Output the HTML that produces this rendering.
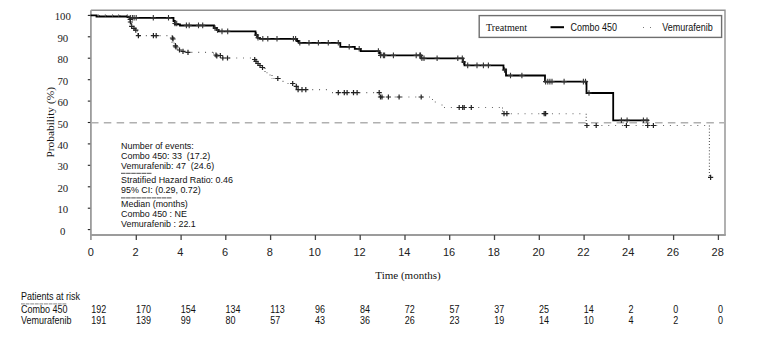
<!DOCTYPE html>
<html><head><meta charset="utf-8"><style>
html,body{margin:0;padding:0;background:#fff;width:765px;height:351px;overflow:hidden}
svg{display:block}
.serif{font-family:"Liberation Serif",serif;fill:#111}
.sans{font-family:"Liberation Sans",sans-serif;fill:#111}
.ylab{font-family:"Liberation Serif",serif;font-size:10.8px;fill:#222;text-anchor:middle}
.xlab{font-family:"Liberation Sans",sans-serif;font-size:11px;fill:#222;text-anchor:middle}
.ann{font-family:"Liberation Sans",sans-serif;font-size:9.8px;fill:#111}
.risk{font-family:"Liberation Sans",sans-serif;font-size:10px;fill:#111}
</style></head><body>
<svg width="765" height="351" viewBox="0 0 765 351">
<path d="M90.9 10.2 H725 V235" fill="none" stroke="#909090" stroke-width="1.4"/>
<path d="M90.9 10.2 V240 M90.9 235 H725.8" fill="none" stroke="#9c9c9c" stroke-width="1.8"/>
<line x1="87.8" y1="229.6" x2="90.2" y2="229.6" stroke="#222" stroke-width="1.1"/>
<text x="62.8" y="234.6" class="ylab">0</text>
<line x1="87.8" y1="208.2" x2="90.2" y2="208.2" stroke="#222" stroke-width="1.1"/>
<text x="62.8" y="213.2" class="ylab">10</text>
<line x1="87.8" y1="186.8" x2="90.2" y2="186.8" stroke="#222" stroke-width="1.1"/>
<text x="62.8" y="191.8" class="ylab">20</text>
<line x1="87.8" y1="165.3" x2="90.2" y2="165.3" stroke="#222" stroke-width="1.1"/>
<text x="62.8" y="170.3" class="ylab">30</text>
<line x1="87.8" y1="143.9" x2="90.2" y2="143.9" stroke="#222" stroke-width="1.1"/>
<text x="62.8" y="148.9" class="ylab">40</text>
<line x1="87.8" y1="122.5" x2="90.2" y2="122.5" stroke="#222" stroke-width="1.1"/>
<text x="62.8" y="127.5" class="ylab">50</text>
<line x1="87.8" y1="101.1" x2="90.2" y2="101.1" stroke="#222" stroke-width="1.1"/>
<text x="62.8" y="106.1" class="ylab">60</text>
<line x1="87.8" y1="79.7" x2="90.2" y2="79.7" stroke="#222" stroke-width="1.1"/>
<text x="62.8" y="84.7" class="ylab">70</text>
<line x1="87.8" y1="58.2" x2="90.2" y2="58.2" stroke="#222" stroke-width="1.1"/>
<text x="62.8" y="63.2" class="ylab">80</text>
<line x1="87.8" y1="36.8" x2="90.2" y2="36.8" stroke="#222" stroke-width="1.1"/>
<text x="62.8" y="41.8" class="ylab">90</text>
<line x1="87.8" y1="15.4" x2="90.2" y2="15.4" stroke="#222" stroke-width="1.1"/>
<text x="62.8" y="20.4" class="ylab">100</text>
<text x="90.8" y="256.3" class="xlab">0</text>
<line x1="136.3" y1="235" x2="136.3" y2="240" stroke="#444" stroke-width="1.3"/>
<text x="135.6" y="256.3" class="xlab">2</text>
<line x1="181.1" y1="235" x2="181.1" y2="240" stroke="#444" stroke-width="1.3"/>
<text x="180.4" y="256.3" class="xlab">4</text>
<line x1="225.8" y1="235" x2="225.8" y2="240" stroke="#444" stroke-width="1.3"/>
<text x="225.1" y="256.3" class="xlab">6</text>
<line x1="270.6" y1="235" x2="270.6" y2="240" stroke="#444" stroke-width="1.3"/>
<text x="269.9" y="256.3" class="xlab">8</text>
<line x1="315.4" y1="235" x2="315.4" y2="240" stroke="#444" stroke-width="1.3"/>
<text x="314.7" y="256.3" class="xlab">10</text>
<line x1="360.2" y1="235" x2="360.2" y2="240" stroke="#444" stroke-width="1.3"/>
<text x="359.5" y="256.3" class="xlab">12</text>
<line x1="405.0" y1="235" x2="405.0" y2="240" stroke="#444" stroke-width="1.3"/>
<text x="404.3" y="256.3" class="xlab">14</text>
<line x1="449.7" y1="235" x2="449.7" y2="240" stroke="#444" stroke-width="1.3"/>
<text x="449.0" y="256.3" class="xlab">16</text>
<line x1="494.5" y1="235" x2="494.5" y2="240" stroke="#444" stroke-width="1.3"/>
<text x="493.8" y="256.3" class="xlab">18</text>
<line x1="539.3" y1="235" x2="539.3" y2="240" stroke="#444" stroke-width="1.3"/>
<text x="538.6" y="256.3" class="xlab">20</text>
<line x1="584.1" y1="235" x2="584.1" y2="240" stroke="#444" stroke-width="1.3"/>
<text x="583.4" y="256.3" class="xlab">22</text>
<line x1="628.9" y1="235" x2="628.9" y2="240" stroke="#444" stroke-width="1.3"/>
<text x="628.2" y="256.3" class="xlab">24</text>
<line x1="673.6" y1="235" x2="673.6" y2="240" stroke="#444" stroke-width="1.3"/>
<text x="672.9" y="256.3" class="xlab">26</text>
<line x1="718.4" y1="235" x2="718.4" y2="240" stroke="#444" stroke-width="1.3"/>
<text x="717.7" y="256.3" class="xlab">28</text>
<line x1="91" y1="122.8" x2="725" y2="122.8" stroke="#b0b0b0" stroke-width="1.6" stroke-dasharray="7.5 5.32" stroke-dashoffset="0"/>
<path d="M90.5 15.5 H130.2 M130.2 23.0 H131.5 M131.5 26.5 H133.5 M133.5 28.5 H135.5 M135.5 30.5 H137.5 M137.5 35.6 H172.0 M172.0 43.0 H175.5 M175.5 49.0 H179.5 M179.5 51.4 H183.0 M183.0 52.4 H213.5 M213.5 55.5 H221.0 M221.0 58.0 H252.0 M252.0 59.5 H255.0 M255.0 62.0 H257.0 M257.0 64.0 H259.0 M259.0 66.0 H262.0 M262.0 68.0 H265.0 M265.0 72.8 H268.0 M268.0 75.0 H272.0 M272.0 78.5 H281.0 M281.0 81.4 H286.0 M286.0 83.5 H294.5 M294.5 86.4 H297.0 M297.0 89.6 H330.5 M330.5 92.6 H379.5 M379.5 97.0 H430.5 M430.5 99.5 H433.3 M433.3 102.0 H440.0 M440.0 105.0 H442.5 M442.5 107.5 H502.5 M502.5 113.7 H586.2 M586.2 125.5 H709.4" fill="none" stroke="#666" stroke-width="1.1" stroke-dasharray="1 5.85" stroke-dashoffset="-1.5"/>
<path d="M130.2 15.5 V23.0 M131.5 23.0 V26.5 M137.5 30.5 V35.6 M172.0 35.6 V43.0 M175.5 43.0 V49.0 M213.5 52.4 V55.5 M265.0 68.0 V72.8 M272.0 75.0 V78.5 M297.0 86.4 V89.6 M379.5 92.6 V97.0 M502.5 107.5 V113.7 M586.2 113.7 V125.5 M709.4 125.5 V177.3" fill="none" stroke="#555" stroke-width="1.1" stroke-dasharray="1 2.1"/>
<path d="M90.5 15.4 L96.5 15.4 L96.5 16.5 L127.5 16.5 L127.5 17.1 L129.5 17.1 L129.5 17.8 L173.5 17.8 L173.5 21.0 L174.8 21.0 L174.8 24.4 L180.0 24.4 L180.0 25.5 L214.0 25.4 L214.0 28.0 L217.0 28.0 L217.0 30.0 L218.5 30.0 L218.5 31.4 L255.5 31.4 L255.5 35.0 L257.5 35.0 L257.5 37.8 L260.0 37.8 L260.0 38.8 L297.0 38.8 L297.0 41.0 L299.0 41.0 L299.0 42.8 L340.3 42.8 L340.3 46.8 L354.8 46.8 L354.8 48.8 L360.8 48.8 L360.8 51.1 L379.0 51.1 L379.0 53.0 L380.5 53.0 L380.5 55.4 L421.0 55.4 L421.0 58.3 L463.0 58.3 L463.0 62.0 L464.5 62.0 L464.5 65.4 L503.5 65.4 L503.5 69.5 L506.0 69.5 L506.0 75.5 L545.0 75.5 L545.0 81.6 L586.5 81.6 L586.5 93.0 L613.2 93.0 L613.2 120.3 L649.0 120.3" fill="none" stroke="#000" stroke-width="1.8"/>
<path d="M127.7 17.8 H132.9 M130.3 15.0 V20.6" stroke="#333" stroke-width="1.1"/>
<path d="M129.8 17.8 H135.0 M132.4 15.0 V20.6" stroke="#333" stroke-width="1.1"/>
<path d="M131.5 17.8 H136.7 M134.1 15.0 V20.6" stroke="#333" stroke-width="1.1"/>
<path d="M133.6 17.8 H138.8 M136.2 15.0 V20.6" stroke="#333" stroke-width="1.1"/>
<path d="M150.7 17.8 H155.9 M153.3 15.0 V20.6" stroke="#333" stroke-width="1.1"/>
<path d="M165.9 17.8 H171.1 M168.5 15.0 V20.6" stroke="#333" stroke-width="1.1"/>
<path d="M172.4 23.5 H177.6 M175.0 20.7 V26.3" stroke="#333" stroke-width="1.1"/>
<path d="M174.1 23.5 H179.3 M176.7 20.7 V26.3" stroke="#333" stroke-width="1.1"/>
<path d="M183.8 25.4 H189.0 M186.4 22.6 V28.2" stroke="#333" stroke-width="1.1"/>
<path d="M186.6 25.4 H191.8 M189.2 22.6 V28.2" stroke="#333" stroke-width="1.1"/>
<path d="M195.9 25.4 H201.1 M198.5 22.6 V28.2" stroke="#333" stroke-width="1.1"/>
<path d="M200.1 25.4 H205.3 M202.7 22.6 V28.2" stroke="#333" stroke-width="1.1"/>
<path d="M212.4 28.0 H217.6 M215.0 25.2 V30.8" stroke="#333" stroke-width="1.1"/>
<path d="M214.9 30.0 H220.1 M217.5 27.2 V32.8" stroke="#333" stroke-width="1.1"/>
<path d="M219.4 31.4 H224.6 M222.0 28.6 V34.2" stroke="#333" stroke-width="1.1"/>
<path d="M225.1 31.4 H230.3 M227.7 28.6 V34.2" stroke="#333" stroke-width="1.1"/>
<path d="M253.9 35.0 H259.1 M256.5 32.2 V37.8" stroke="#333" stroke-width="1.1"/>
<path d="M255.4 37.8 H260.6 M258.0 35.0 V40.6" stroke="#333" stroke-width="1.1"/>
<path d="M260.2 38.8 H265.4 M262.8 36.0 V41.6" stroke="#333" stroke-width="1.1"/>
<path d="M265.2 38.8 H270.4 M267.8 36.0 V41.6" stroke="#333" stroke-width="1.1"/>
<path d="M274.4 38.8 H279.6 M277.0 36.0 V41.6" stroke="#333" stroke-width="1.1"/>
<path d="M290.8 38.8 H296.0 M293.4 36.0 V41.6" stroke="#333" stroke-width="1.1"/>
<path d="M293.0 38.8 H298.2 M295.6 36.0 V41.6" stroke="#333" stroke-width="1.1"/>
<path d="M297.2 42.8 H302.4 M299.8 40.0 V45.6" stroke="#333" stroke-width="1.1"/>
<path d="M306.4 42.8 H311.6 M309.0 40.0 V45.6" stroke="#333" stroke-width="1.1"/>
<path d="M315.8 42.8 H321.0 M318.4 40.0 V45.6" stroke="#333" stroke-width="1.1"/>
<path d="M325.7 42.8 H330.9 M328.3 40.0 V45.6" stroke="#333" stroke-width="1.1"/>
<path d="M335.7 42.8 H340.9 M338.3 40.0 V45.6" stroke="#333" stroke-width="1.1"/>
<path d="M346.6 46.8 H351.8 M349.2 44.0 V49.6" stroke="#333" stroke-width="1.1"/>
<path d="M356.6 48.8 H361.8 M359.2 46.0 V51.6" stroke="#333" stroke-width="1.1"/>
<path d="M375.8 51.1 H381.0 M378.4 48.3 V53.9" stroke="#333" stroke-width="1.1"/>
<path d="M378.0 55.4 H383.2 M380.6 52.6 V58.2" stroke="#333" stroke-width="1.1"/>
<path d="M380.8 55.4 H386.0 M383.4 52.6 V58.2" stroke="#333" stroke-width="1.1"/>
<path d="M382.0 55.4 H387.2 M384.6 52.6 V58.2" stroke="#333" stroke-width="1.1"/>
<path d="M390.8 55.4 H396.0 M393.4 52.6 V58.2" stroke="#333" stroke-width="1.1"/>
<path d="M413.6 55.4 H418.8 M416.2 52.6 V58.2" stroke="#333" stroke-width="1.1"/>
<path d="M417.2 55.4 H422.4 M419.8 52.6 V58.2" stroke="#333" stroke-width="1.1"/>
<path d="M417.9 55.4 H423.1 M420.5 52.6 V58.2" stroke="#333" stroke-width="1.1"/>
<path d="M419.3 58.3 H424.5 M421.9 55.5 V61.1" stroke="#333" stroke-width="1.1"/>
<path d="M421.4 58.3 H426.6 M424.0 55.5 V61.1" stroke="#333" stroke-width="1.1"/>
<path d="M434.5 58.3 H439.7 M437.1 55.5 V61.1" stroke="#333" stroke-width="1.1"/>
<path d="M455.2 58.3 H460.4 M457.8 55.5 V61.1" stroke="#333" stroke-width="1.1"/>
<path d="M459.7 58.3 H464.9 M462.3 55.5 V61.1" stroke="#333" stroke-width="1.1"/>
<path d="M460.9 62.0 H466.1 M463.5 59.2 V64.8" stroke="#333" stroke-width="1.1"/>
<path d="M465.1 65.4 H470.3 M467.7 62.6 V68.2" stroke="#333" stroke-width="1.1"/>
<path d="M474.4 65.4 H479.6 M477.0 62.6 V68.2" stroke="#333" stroke-width="1.1"/>
<path d="M480.8 65.4 H486.0 M483.4 62.6 V68.2" stroke="#333" stroke-width="1.1"/>
<path d="M485.8 65.4 H491.0 M488.4 62.6 V68.2" stroke="#333" stroke-width="1.1"/>
<path d="M501.9 70.0 H507.1 M504.5 67.2 V72.8" stroke="#333" stroke-width="1.1"/>
<path d="M507.9 75.5 H513.1 M510.5 72.7 V78.3" stroke="#333" stroke-width="1.1"/>
<path d="M519.3 75.5 H524.5 M521.9 72.7 V78.3" stroke="#333" stroke-width="1.1"/>
<path d="M543.0 81.6 H548.2 M545.6 78.8 V84.4" stroke="#333" stroke-width="1.1"/>
<path d="M545.2 81.6 H550.4 M547.8 78.8 V84.4" stroke="#333" stroke-width="1.1"/>
<path d="M547.3 81.6 H552.5 M549.9 78.8 V84.4" stroke="#333" stroke-width="1.1"/>
<path d="M549.4 81.6 H554.6 M552.0 78.8 V84.4" stroke="#333" stroke-width="1.1"/>
<path d="M561.5 81.6 H566.7 M564.1 78.8 V84.4" stroke="#333" stroke-width="1.1"/>
<path d="M580.8 81.6 H586.0 M583.4 78.8 V84.4" stroke="#333" stroke-width="1.1"/>
<path d="M582.9 81.6 H588.1 M585.5 78.8 V84.4" stroke="#333" stroke-width="1.1"/>
<path d="M586.4 93.0 H591.6 M589.0 90.2 V95.8" stroke="#333" stroke-width="1.1"/>
<path d="M618.8 120.3 H624.0 M621.4 117.5 V123.1" stroke="#333" stroke-width="1.1"/>
<path d="M624.5 120.3 H629.7 M627.1 117.5 V123.1" stroke="#333" stroke-width="1.1"/>
<path d="M640.8 120.3 H646.0 M643.4 117.5 V123.1" stroke="#333" stroke-width="1.1"/>
<path d="M644.4 120.3 H649.6 M647.0 117.5 V123.1" stroke="#333" stroke-width="1.1"/>
<line x1="98.2" y1="14.3" x2="98.2" y2="16.5" stroke="#666" stroke-width="1"/>
<line x1="105.3" y1="14.3" x2="105.3" y2="16.5" stroke="#666" stroke-width="1"/>
<line x1="112.5" y1="14.3" x2="112.5" y2="16.5" stroke="#666" stroke-width="1"/>
<line x1="118.6" y1="14.3" x2="118.6" y2="16.5" stroke="#666" stroke-width="1"/>
<line x1="127.3" y1="14.3" x2="127.3" y2="16.5" stroke="#666" stroke-width="1"/>
<path d="M127.6 19.5 H132.8 M130.2 16.9 V22.1" stroke="#222" stroke-width="1.2"/>
<path d="M127.8 22.0 H133.0 M130.4 19.4 V24.6" stroke="#222" stroke-width="1.2"/>
<path d="M129.1 26.3 H134.3 M131.7 23.7 V28.9" stroke="#222" stroke-width="1.2"/>
<path d="M131.4 28.3 H136.6 M134.0 25.7 V30.9" stroke="#222" stroke-width="1.2"/>
<path d="M133.2 30.2 H138.4 M135.8 27.6 V32.8" stroke="#222" stroke-width="1.2"/>
<path d="M135.8 35.6 H141.0 M138.4 33.0 V38.2" stroke="#222" stroke-width="1.2"/>
<path d="M150.8 35.6 H156.0 M153.4 33.0 V38.2" stroke="#222" stroke-width="1.2"/>
<path d="M153.6 35.6 H158.8 M156.2 33.0 V38.2" stroke="#222" stroke-width="1.2"/>
<path d="M170.4 39.0 H175.6 M173.0 36.4 V41.6" stroke="#222" stroke-width="1.2"/>
<path d="M169.9 38.0 H175.1 M172.5 35.4 V40.6" stroke="#222" stroke-width="1.2"/>
<path d="M172.8 45.8 H178.0 M175.4 43.2 V48.4" stroke="#222" stroke-width="1.2"/>
<path d="M173.4 47.0 H178.6 M176.0 44.4 V49.6" stroke="#222" stroke-width="1.2"/>
<path d="M176.9 50.0 H182.1 M179.5 47.4 V52.6" stroke="#222" stroke-width="1.2"/>
<path d="M180.4 51.4 H185.6 M183.0 48.8 V54.0" stroke="#222" stroke-width="1.2"/>
<path d="M185.4 52.4 H190.6 M188.0 49.8 V55.0" stroke="#222" stroke-width="1.2"/>
<path d="M213.4 55.0 H218.6 M216.0 52.4 V57.6" stroke="#222" stroke-width="1.2"/>
<path d="M214.2 56.0 H219.4 M216.8 53.4 V58.6" stroke="#222" stroke-width="1.2"/>
<path d="M217.7 55.5 H222.9 M220.3 52.9 V58.1" stroke="#222" stroke-width="1.2"/>
<path d="M220.2 58.0 H225.4 M222.8 55.4 V60.6" stroke="#222" stroke-width="1.2"/>
<path d="M224.9 58.0 H230.1 M227.5 55.4 V60.6" stroke="#222" stroke-width="1.2"/>
<path d="M252.1 59.5 H257.3 M254.7 56.9 V62.1" stroke="#222" stroke-width="1.2"/>
<path d="M253.4 61.4 H258.6 M256.0 58.8 V64.0" stroke="#222" stroke-width="1.2"/>
<path d="M255.4 63.5 H260.6 M258.0 60.9 V66.1" stroke="#222" stroke-width="1.2"/>
<path d="M257.4 65.5 H262.6 M260.0 62.9 V68.1" stroke="#222" stroke-width="1.2"/>
<path d="M259.9 67.5 H265.1 M262.5 64.9 V70.1" stroke="#222" stroke-width="1.2"/>
<path d="M275.2 78.5 H280.4 M277.8 75.9 V81.1" stroke="#222" stroke-width="1.2"/>
<path d="M290.1 83.5 H295.3 M292.7 80.9 V86.1" stroke="#222" stroke-width="1.2"/>
<path d="M293.7 86.4 H298.9 M296.3 83.8 V89.0" stroke="#222" stroke-width="1.2"/>
<path d="M295.5 89.6 H300.7 M298.1 87.0 V92.2" stroke="#222" stroke-width="1.2"/>
<path d="M299.4 89.6 H304.6 M302.0 87.0 V92.2" stroke="#222" stroke-width="1.2"/>
<path d="M303.2 89.6 H308.4 M305.8 87.0 V92.2" stroke="#222" stroke-width="1.2"/>
<path d="M335.7 92.6 H340.9 M338.3 90.0 V95.2" stroke="#222" stroke-width="1.2"/>
<path d="M341.7 92.6 H346.9 M344.3 90.0 V95.2" stroke="#222" stroke-width="1.2"/>
<path d="M344.5 92.6 H349.7 M347.1 90.0 V95.2" stroke="#222" stroke-width="1.2"/>
<path d="M350.9 92.6 H356.1 M353.5 90.0 V95.2" stroke="#222" stroke-width="1.2"/>
<path d="M354.5 92.6 H359.7 M357.1 90.0 V95.2" stroke="#222" stroke-width="1.2"/>
<path d="M376.6 92.6 H381.8 M379.2 90.0 V95.2" stroke="#222" stroke-width="1.2"/>
<path d="M377.9 97.0 H383.1 M380.5 94.4 V99.6" stroke="#222" stroke-width="1.2"/>
<path d="M379.4 97.0 H384.6 M382.0 94.4 V99.6" stroke="#222" stroke-width="1.2"/>
<path d="M385.8 97.0 H391.0 M388.4 94.4 V99.6" stroke="#222" stroke-width="1.2"/>
<path d="M396.5 97.0 H401.7 M399.1 94.4 V99.6" stroke="#222" stroke-width="1.2"/>
<path d="M418.6 97.0 H423.8 M421.2 94.4 V99.6" stroke="#222" stroke-width="1.2"/>
<path d="M456.6 107.5 H461.8 M459.2 104.9 V110.1" stroke="#222" stroke-width="1.2"/>
<path d="M460.1 107.5 H465.3 M462.7 104.9 V110.1" stroke="#222" stroke-width="1.2"/>
<path d="M461.6 107.5 H466.8 M464.2 104.9 V110.1" stroke="#222" stroke-width="1.2"/>
<path d="M468.7 107.5 H473.9 M471.3 104.9 V110.1" stroke="#222" stroke-width="1.2"/>
<path d="M501.4 113.7 H506.6 M504.0 111.1 V116.3" stroke="#222" stroke-width="1.2"/>
<path d="M504.3 113.7 H509.5 M506.9 111.1 V116.3" stroke="#222" stroke-width="1.2"/>
<path d="M541.6 113.7 H546.8 M544.2 111.1 V116.3" stroke="#222" stroke-width="1.2"/>
<path d="M543.0 113.7 H548.2 M545.6 111.1 V116.3" stroke="#222" stroke-width="1.2"/>
<path d="M584.3 125.5 H589.5 M586.9 122.9 V128.1" stroke="#222" stroke-width="1.2"/>
<path d="M593.6 125.5 H598.8 M596.2 122.9 V128.1" stroke="#222" stroke-width="1.2"/>
<path d="M623.8 125.5 H629.0 M626.4 122.9 V128.1" stroke="#222" stroke-width="1.2"/>
<path d="M645.1 125.5 H650.3 M647.7 122.9 V128.1" stroke="#222" stroke-width="1.2"/>
<path d="M650.8 125.5 H656.0 M653.4 122.9 V128.1" stroke="#222" stroke-width="1.2"/>
<path d="M708.0 177.3 H713.2 M710.6 174.7 V179.9" stroke="#222" stroke-width="1.2"/>
<rect x="479.2" y="15.6" width="242.4" height="21.8" fill="#fff" stroke="#6e6e6e" stroke-width="1.4"/>
<text x="486" y="31.0" class="serif" style="font-size:10.1px">Treatment</text>
<line x1="550.5" y1="27.2" x2="564" y2="27.2" stroke="#000" stroke-width="2"/>
<text transform="translate(570.4 31.3) scale(0.875 1)" class="sans" style="font-size:10.3px">Combo 450</text>
<rect x="643" y="27" width="1" height="1" fill="#777"/><rect x="650" y="27" width="1" height="1" fill="#777"/>
<text transform="translate(662.2 31.3) scale(0.875 1)" class="sans" style="font-size:10.3px">Vemurafenib</text>
<text x="408" y="279.3" class="serif" style="font-size:11px" text-anchor="middle">Time (months)</text>
<text transform="translate(54.2 122.3) rotate(-90)" class="serif" style="font-size:11.4px" text-anchor="middle">Probability (%)</text>
<text transform="translate(121 149.1) scale(0.91 1)" class="ann" xml:space="preserve">Number of events:</text>
<text transform="translate(121 158.7) scale(0.91 1)" class="ann" xml:space="preserve">Combo 450: 33  (17.2)</text>
<text transform="translate(121 168.6) scale(0.91 1)" class="ann" xml:space="preserve">Vemurafenib: 47  (24.6)</text>
<text transform="translate(121 183.1) scale(0.91 1)" class="ann" xml:space="preserve">Stratified Hazard Ratio: 0.46</text>
<text transform="translate(121 193) scale(0.91 1)" class="ann" xml:space="preserve">95% CI: (0.29, 0.72)</text>
<text transform="translate(121 207.3) scale(0.91 1)" class="ann" xml:space="preserve">Median (months)</text>
<text transform="translate(121 217) scale(0.91 1)" class="ann" xml:space="preserve">Combo 450 : NE</text>
<text transform="translate(121 227.3) scale(0.91 1)" class="ann" xml:space="preserve">Vemurafenib : 22.1</text>
<line x1="121" y1="173.4" x2="152" y2="173.4" stroke="#707070" stroke-width="1.2" stroke-dasharray="4.6 0.5"/>
<line x1="121" y1="197.9" x2="172" y2="197.9" stroke="#707070" stroke-width="1.2" stroke-dasharray="4.6 0.5"/>
<text transform="translate(21 299.9) scale(0.9 1)" class="risk">Patients at risk</text>
<line x1="21" y1="303.8" x2="66.5" y2="303.8" stroke="#a0a0a0" stroke-width="1.3" stroke-dasharray="3.9 0.7"/>
<text transform="translate(21 312.9) scale(0.9 1)" class="risk">Combo 450</text>
<text transform="translate(21 323.6) scale(0.9 1)" class="risk">Vemurafenib</text>
<text transform="translate(91.2 312.9) scale(0.9 1)" class="risk">192</text>
<text transform="translate(91.2 323.6) scale(0.9 1)" class="risk">191</text>
<text transform="translate(136.0 312.9) scale(0.9 1)" class="risk">170</text>
<text transform="translate(136.0 323.6) scale(0.9 1)" class="risk">139</text>
<text transform="translate(180.8 312.9) scale(0.9 1)" class="risk">154</text>
<text transform="translate(180.8 323.6) scale(0.9 1)" class="risk">99</text>
<text transform="translate(225.5 312.9) scale(0.9 1)" class="risk">134</text>
<text transform="translate(225.5 323.6) scale(0.9 1)" class="risk">80</text>
<text transform="translate(270.3 312.9) scale(0.9 1)" class="risk">113</text>
<text transform="translate(270.3 323.6) scale(0.9 1)" class="risk">57</text>
<text transform="translate(315.1 312.9) scale(0.9 1)" class="risk">96</text>
<text transform="translate(315.1 323.6) scale(0.9 1)" class="risk">43</text>
<text transform="translate(359.9 312.9) scale(0.9 1)" class="risk">84</text>
<text transform="translate(359.9 323.6) scale(0.9 1)" class="risk">36</text>
<text transform="translate(404.7 312.9) scale(0.9 1)" class="risk">72</text>
<text transform="translate(404.7 323.6) scale(0.9 1)" class="risk">26</text>
<text transform="translate(449.4 312.9) scale(0.9 1)" class="risk">57</text>
<text transform="translate(449.4 323.6) scale(0.9 1)" class="risk">23</text>
<text transform="translate(494.2 312.9) scale(0.9 1)" class="risk">37</text>
<text transform="translate(494.2 323.6) scale(0.9 1)" class="risk">19</text>
<text transform="translate(539.0 312.9) scale(0.9 1)" class="risk">25</text>
<text transform="translate(539.0 323.6) scale(0.9 1)" class="risk">14</text>
<text transform="translate(583.8 312.9) scale(0.9 1)" class="risk">14</text>
<text transform="translate(583.8 323.6) scale(0.9 1)" class="risk">10</text>
<text transform="translate(628.6 312.9) scale(0.9 1)" class="risk">2</text>
<text transform="translate(628.6 323.6) scale(0.9 1)" class="risk">4</text>
<text transform="translate(673.3 312.9) scale(0.9 1)" class="risk">0</text>
<text transform="translate(673.3 323.6) scale(0.9 1)" class="risk">2</text>
<text transform="translate(718.1 312.9) scale(0.9 1)" class="risk">0</text>
<text transform="translate(718.1 323.6) scale(0.9 1)" class="risk">0</text>
</svg>
</body></html>
